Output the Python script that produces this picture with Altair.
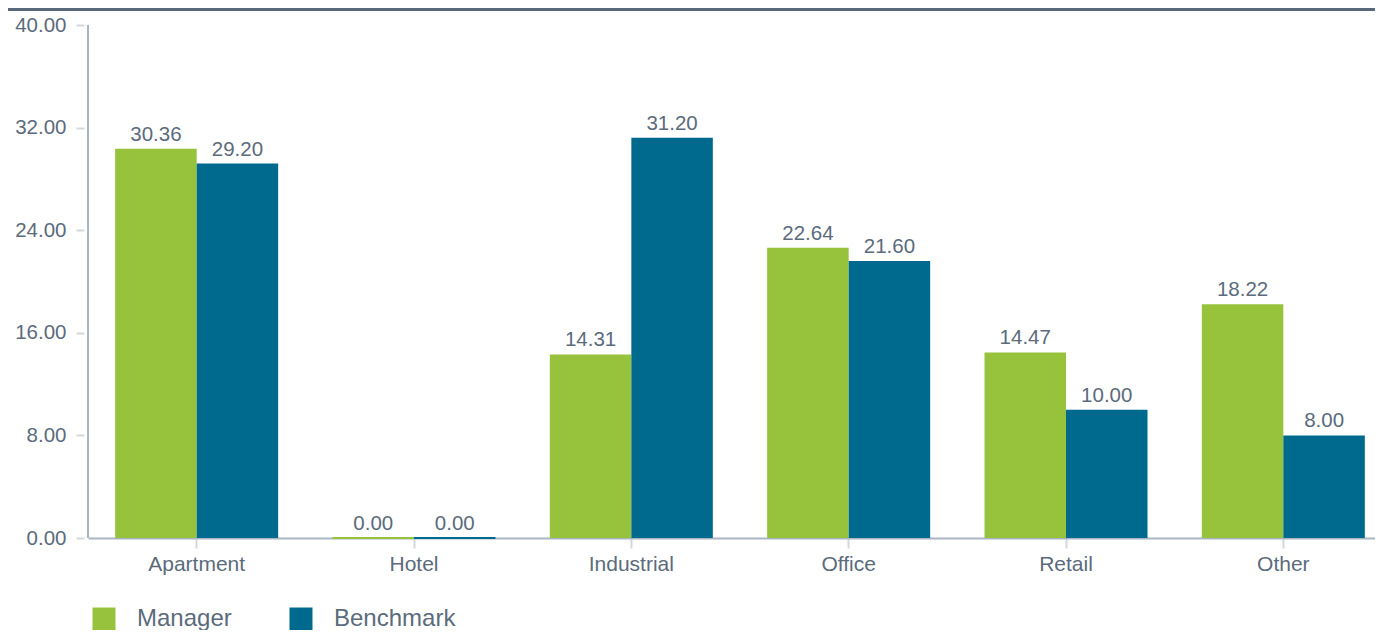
import altair as alt
import pandas as pd

categories = ["Apartment", "Hotel", "Industrial", "Office", "Retail", "Other"]
series = ["Manager", "Benchmark"]
manager = [30.36, 0.00, 14.31, 22.64, 14.47, 18.22]
benchmark = [29.20, 0.00, 31.20, 21.60, 10.00, 8.00]
colors = ["#97c23c", "#006a8e"]
y_ticks = [0, 8, 16, 24, 32, 40]

rows = []
for c, m, b in zip(categories, manager, benchmark):
    rows.append({"Category": c, "Series": "Manager", "Value": m})
    rows.append({"Category": c, "Series": "Benchmark", "Value": b})
df = pd.DataFrame(rows)

W = 1287          # visible plot width (svg stays inside the window)
RANGE_W = 1304    # band range, runs slightly past the right edge as in the reference
H = 513
TEXT = "#5b6b7c"
FONT = "Liberation Sans"

x = alt.X(
    "Category:N",
    sort=categories,
    title=None,
    scale=alt.Scale(paddingInner=0.25, paddingOuter=0.125, range=[0, RANGE_W]),
    axis=alt.Axis(
        labelAngle=0, labelFontSize=21, labelColor=TEXT, labelFont=FONT,
        labelPadding=5, tickColor="#d3d8de", tickWidth=2, tickSize=10,
        domainColor="#a9b5c2", domainWidth=2, grid=False,
    ),
)
xo = alt.XOffset("Series:N", sort=series, scale=alt.Scale(paddingInner=0, paddingOuter=0))
y = alt.Y(
    "Value:Q",
    scale=alt.Scale(domain=[0, 40], nice=False),
    axis=alt.Axis(
        values=y_ticks, format=".2f", title=None, grid=False, domain=False,
        offset=4, tickSize=8, tickColor="#d3d8de", tickWidth=2,
        labelPadding=10, labelFontSize=20.5, labelColor=TEXT, labelFont=FONT,
    ),
)

color_scale = alt.Scale(domain=series, range=colors)

bars = alt.Chart(df).mark_bar().encode(
    x=x,
    xOffset=xo,
    y=y,
    color=alt.Color(
        "Series:N", scale=color_scale, sort=series,
        legend=alt.Legend(
            title=None, orient="none", legendX=4, legendY=582,
            direction="horizontal", symbolType="square", symbolSize=529,
            symbolStrokeWidth=0, labelFontSize=24, labelColor=TEXT,
            labelFont=FONT, labelOffset=21, columnPadding=57,
        ),
    ),
    stroke=alt.Stroke("Series:N", scale=color_scale, legend=None),
    strokeWidth=alt.condition(alt.datum.Value == 0, alt.value(2), alt.value(0)),
)

labels = alt.Chart(df).mark_text(
    dy=-8, baseline="alphabetic", fontSize=20.5, color=TEXT, font=FONT
).encode(
    x=x,
    xOffset=xo,
    y=y,
    text=alt.Text("Value:Q", format=".2f"),
)

aux = pd.DataFrame({"a": [0]})
top_cover = alt.Chart(aux).mark_rule(color="white", strokeWidth=3).encode(
    x=alt.value(2), x2=alt.value(W + 5), y=alt.value(0)
)
y_domain = alt.Chart(aux).mark_rule(color="#a9b5c2", strokeWidth=2).encode(
    x=alt.value(0), y=alt.value(0), y2=alt.value(H)
)
top_border = alt.Chart(aux).mark_rule(color="#56687a", strokeWidth=3).encode(
    x=alt.value(-80), x2=alt.value(W), y=alt.value(-15.5)
)

chart = (
    alt.layer(bars, labels, top_cover, y_domain, top_border)
    .properties(
        width=W,
        height=H,
        autosize=alt.AutoSizeParams(type="none"),
        padding={"left": 80, "top": 17, "right": 0, "bottom": 92},
        view=alt.ViewBackground(stroke="transparent", strokeWidth=0),
    )
    .configure_view(stroke="transparent", strokeWidth=0)
    .configure(font=FONT)
)

chart.save("out.html", embed_options={"renderer": "svg", "actions": False})
